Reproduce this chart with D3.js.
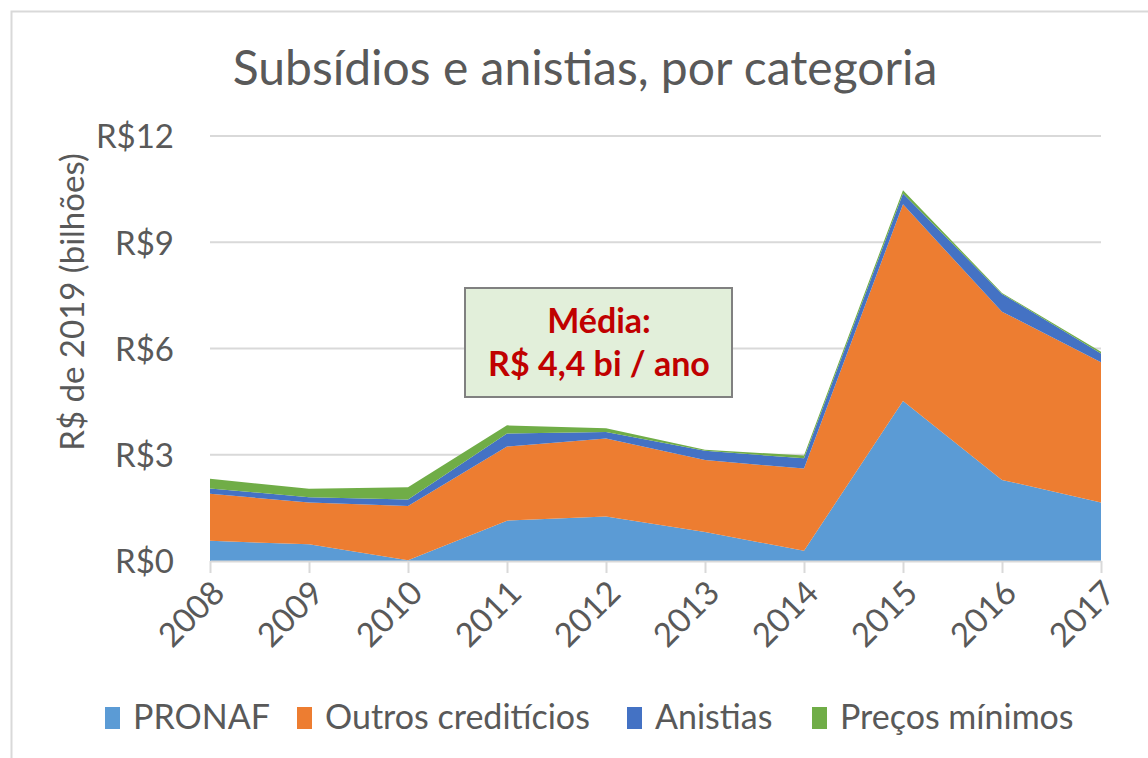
<!DOCTYPE html>
<html>
<head>
<meta charset="utf-8">
<script src="https://cdn.jsdelivr.net/npm/d3@7"></script>
<style>
  body { margin: 0; background: #fff; }
  svg text { font-family: Lato, "Open Sans", sans-serif; fill: #595959; }
</style>
</head>
<body>
<svg id="chart" width="1148" height="758"></svg>
<script>
"use strict";

// values, R$ bilhões (2019)
let years = ["2008", "2009", "2010", "2011", "2012", "2013", "2014", "2015", "2016", "2017"];
let pronaf = [0.57, 0.47, 0.02, 1.14, 1.26, 0.82, 0.29, 4.52, 2.29, 1.65];
let outros = [1.33, 1.18, 1.53, 2.09, 2.20, 2.03, 2.32, 5.55, 4.75, 3.96];
let anistias = [0.15, 0.15, 0.19, 0.37, 0.18, 0.26, 0.29, 0.31, 0.50, 0.25];
let precos = [0.27, 0.24, 0.34, 0.23, 0.11, 0.03, 0.08, 0.09, 0.03, 0.05];

let series_names = ["PRONAF", "Outros creditícios", "Anistias", "Preços mínimos"];
let series_keys = ["pronaf", "outros", "anistias", "precos"];
let colors = ["#5b9bd5", "#ed7d31", "#4472c4", "#70ad47"];
let y_ticks = [0, 3, 6, 9, 12];

let rows = years.map((y, i) => ({
    year: y,
    pronaf: pronaf[i],
    outros: outros[i],
    anistias: anistias[i],
    precos: precos[i]
}));

let svg = d3.select("#chart");

// outer chart border
svg.append("rect").attr("x", 11.5).attr("y", 11.5).attr("width", 1200).attr("height", 800)
    .attr("fill", "#fff").attr("stroke", "#d9d9d9").attr("stroke-width", 2);

let x = d3.scalePoint().domain(years).range([210, 1101]);
let y = d3.scaleLinear().domain([0, 12]).range([561, 136]);

// gridlines
svg.append("g").selectAll("line").data(y_ticks.slice(1)).join("line")
    .attr("x1", 210).attr("x2", 1101)
    .attr("y1", d => y(d)).attr("y2", d => y(d))
    .attr("stroke", "#d9d9d9").attr("stroke-width", 2);

// stacked areas
let stack = d3.stack().keys(series_keys);
let layers = stack(rows);
let area = d3.area()
    .x(d => x(d.data.year))
    .y0(d => y(d[0]))
    .y1(d => y(d[1]));

svg.append("g").selectAll("path").data(layers).join("path")
    .attr("d", area)
    .attr("fill", (d, i) => colors[i]);

// x axis
let x_axis = svg.append("g").attr("transform", "translate(0," + y(0) + ")")
    .call(d3.axisBottom(x).tickSize(12).tickSizeOuter(0));
x_axis.select(".domain").attr("stroke", "#d9d9d9").attr("stroke-width", 2);
x_axis.selectAll(".tick line").attr("stroke", "#d9d9d9").attr("stroke-width", 2);
x_axis.selectAll(".tick text")
    .attr("font-size", 33)
    .attr("fill", "#595959")
    .attr("text-anchor", "end")
    .attr("dy", 0)
    .attr("transform", "translate(10,28) rotate(-45)")
    .attr("y", 0).attr("x", 0)
    .attr("dominant-baseline", "middle");

// y axis labels
let y_axis = svg.append("g").attr("transform", "translate(174,0)")
    .call(d3.axisLeft(y).tickValues(y_ticks).tickSize(0).tickFormat(d => "R$" + d));
y_axis.select(".domain").remove();
y_axis.selectAll(".tick text").attr("font-size", 33).attr("fill", "#595959").attr("x", 0).attr("dy", "0.36em");

// y axis title
svg.append("text")
    .attr("transform", "translate(84,302) rotate(-90)")
    .attr("text-anchor", "middle")
    .attr("font-size", 33)
    .text("R$ de 2019 (bilhões)");

// title
svg.append("text")
    .attr("x", 585).attr("y", 85)
    .attr("text-anchor", "middle")
    .attr("font-size", 48)
    .text("Subsídios e anistias, por categoria");

// annotation box
let note = svg.append("g");
note.append("rect").attr("x", 465).attr("y", 288).attr("width", 267).attr("height", 109)
    .attr("fill", "#e2efda").attr("stroke", "#808080").attr("stroke-width", 2);
note.append("text").attr("x", 599).attr("y", 333).attr("text-anchor", "middle")
    .attr("font-size", 34).attr("font-weight", "bold").style("fill", "#c00000")
    .text("Média:");
note.append("text").attr("x", 599).attr("y", 376).attr("text-anchor", "middle")
    .attr("font-size", 34).attr("font-weight", "bold").style("fill", "#c00000")
    .text("R$ 4,4 bi / ano");

// legend
let legend_x = [105, 297, 627, 812];
let legend = svg.append("g").selectAll("g").data(series_names).join("g")
    .attr("transform", (d, i) => "translate(" + legend_x[i] + ",707)");
legend.append("rect").attr("width", 15).attr("height", 22).attr("fill", (d, i) => colors[i]);
legend.append("text").attr("x", 28).attr("y", 22).attr("font-size", 34).text(d => d);
</script>
</body>
</html>
